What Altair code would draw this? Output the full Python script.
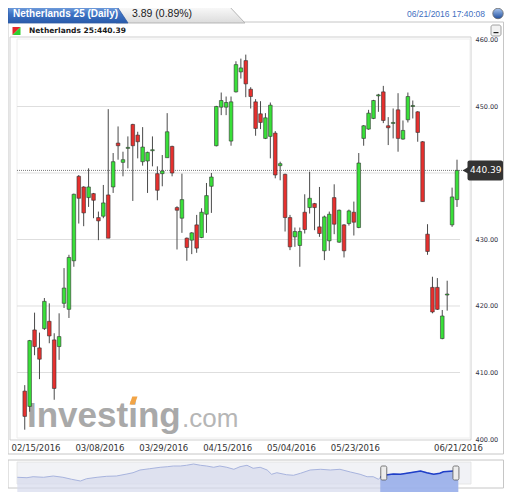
import altair as alt
import pandas as pd

# ---------------- data ----------------
# daily candles, index 0 = first candle shown ... 88 = 06/21/2016
opens = [407.2, 404.9, 416.4, 413.7, 416.6, 417.7, 414.9, 413.9, 420.4, 419.5,
         426.8, 439.5, 437.9, 436.3, 436.9, 433.3, 433.5, 436.7, 437.9, 444.5,
         441.6, 443.7, 447.3, 445.7, 441.7, 441.8, 443.35, 439.9, 439.9, 442.3,
         444.0, 434.8, 433.2, 430.2, 429.9, 432.2, 430.3, 433.8, 438.0, 444.1,
         449.9, 449.9, 444.8, 452.2, 455.2, 456.9, 452.6, 450.7, 448.9, 445.2,
         445.5, 446.0, 441.1, 439.8, 433.3, 430.4, 429.1, 434.1, 434.8, 435.4,
         431.9, 428.3, 429.8, 436.3, 429.6, 432.2, 432.4, 434.1, 431.8, 445.2,
         446.6, 448.2, 451.6, 452.2, 447.1, 447.45, 449.5, 445.1, 448.0, 450.0,
         449.2, 444.7, 430.8, 422.8, 422.8, 415.1, 421.65, 432.2, 436.0]
highs = [408.1, 414.9, 419.0, 416.0, 421.2, 420.4, 415.9, 418.9, 425.7, 427.7,
         436.9, 439.7, 438.0, 440.7, 437.0, 434.2, 438.2, 449.6, 443.0, 447.0,
         443.2, 445.5, 447.4, 446.2, 446.9, 443.2, 445.5, 441.0, 442.7, 449.0,
         444.1, 435.0, 439.9, 430.3, 431.1, 433.7, 434.7, 438.5, 440.0, 450.1,
         452.1, 451.5, 451.5, 456.8, 457.2, 457.8, 452.9, 451.1, 450.8, 449.0,
         450.6, 446.3, 441.7, 439.9, 433.7, 431.8, 431.8, 436.8, 440.2, 435.5,
         437.9, 433.6, 434.2, 438.3, 434.5, 432.3, 434.5, 435.7, 443.0, 447.2,
         449.5, 451.0, 451.9, 453.1, 448.4, 449.7, 452.0, 447.9, 452.1, 450.9,
         449.3, 444.8, 432.3, 424.4, 424.2, 419.4, 423.8, 437.8, 442.0]
lows = [401.4, 404.1, 412.6, 409.0, 416.4, 414.4, 405.9, 411.9, 419.7, 418.2,
        425.9, 432.4, 432.0, 434.9, 433.2, 429.9, 433.2, 430.2, 437.0, 442.0,
        439.5, 440.7, 435.8, 442.2, 441.1, 437.0, 441.0, 435.9, 438.0, 442.3,
        439.5, 428.5, 431.0, 426.8, 427.8, 428.0, 430.2, 431.0, 434.0, 444.0,
        448.7, 448.7, 444.1, 452.1, 454.2, 451.4, 449.7, 445.6, 446.6, 445.1,
        442.2, 439.2, 438.9, 431.2, 428.4, 428.9, 425.9, 430.9, 433.9, 431.4,
        430.4, 426.9, 428.3, 430.8, 429.5, 427.3, 432.1, 430.6, 431.7, 444.1,
        446.5, 448.1, 449.2, 447.5, 444.2, 445.2, 443.2, 445.0, 447.6, 448.2,
        444.7, 435.7, 427.7, 418.9, 419.4, 415.0, 419.3, 431.9, 434.9]
closes = [403.4, 414.8, 413.9, 412.0, 420.7, 415.5, 407.6, 415.4, 422.7, 427.3,
          436.8, 436.2, 434.0, 437.9, 435.9, 432.8, 435.5, 430.2, 441.7, 444.1,
          442.0, 443.85, 444.1, 444.7, 443.9, 443.1, 443.5, 437.4, 440.3, 446.2,
          440.0, 434.4, 436.0, 428.8, 431.0, 428.7, 434.1, 436.6, 439.4, 450.0,
          450.9, 450.6, 450.7, 456.3, 455.8, 453.4, 451.5, 446.7, 447.6, 448.3,
          450.2, 439.7, 441.4, 433.3, 428.9, 431.2, 431.2, 431.5, 436.2, 434.8,
          430.9, 433.4, 433.8, 432.3, 434.4, 428.3, 434.3, 432.6, 441.5, 447.1,
          449.0, 450.9, 451.75, 447.9, 446.8, 447.6, 445.2, 446.4, 451.5, 450.15,
          446.1, 435.7, 428.2, 419.1, 419.5, 418.5, 421.8, 436.4, 440.39]

tick_index = [-1, 15, 28, 41, 54, 67, 88]
tick_labels = ["02/15/2016", "03/08/2016", "03/29/2016", "04/15/2016",
               "05/04/2016", "05/23/2016", "06/21/2016"]
y_ticks = [400, 410, 420, 430, 450, 460]
grid_vals = [410, 420, 430, 440, 450]

# navigator (longer history), day offsets relative to first candle
nav_day = [-414, -403, -396, -384, -373, -362, -352, -342, -335, -323,
           -312, -301, -289, -282, -274, -263, -251, -243, -236, -228,
           -221, -213, -205, -198, -190, -183, -175, -167, -160, -152,
           -145, -137, -129, -124, -118, -107, -99, -91, -80, -68,
           -57, -46, -34, -23, -15, -8, -2, 0, 6, 15,
           23, 34, 46, 53, 61, 68, 72, 84, 89]
nav_level = [414, 411, 418, 414, 423, 414, 400, 388, 404, 414,
             421, 423, 437, 446, 465, 474, 484, 488, 493, 493,
             498, 507, 498, 493, 484, 493, 484, 470, 488, 498,
             477, 484, 465, 435, 446, 432, 428, 442, 465, 470,
             465, 470, 451, 435, 418, 418, 400, 414, 430, 437,
             435, 446, 458, 446, 435, 442, 453, 458, 460]
sel_start, sel_end = 0, 88

title_text = "Netherlands 25 (Daily)"
change_text = "3.89 (0.89%)"
timestamp_text = "06/21/2016 17:40:08"
instrument = "Netherlands 25"

# ---------------- tables ----------------
df = pd.DataFrame({"i": list(range(len(opens))), "open": opens, "high": highs,
                   "low": lows, "close": closes})
df["dir"] = ["up" if c >= o else "down" for o, c in zip(opens, closes)]
last = df.tail(1)
nav = pd.DataFrame({"d": nav_day, "v": nav_level})
one = pd.DataFrame({"k": [0]})

W, H = 461, 403
X0, X1 = -3, 90.85
xs = alt.Scale(domain=[X0, X1], nice=False, zero=False, padding=0)
ys = alt.Scale(domain=[399.85, 460.45], nice=False, zero=False)
nxs = alt.Scale(domain=[-414, 89], range=[7.3, 448.3], nice=False, zero=False)
nys = alt.Scale(domain=[367, 521], range=[447, 425], nice=False, zero=False)

axis_vals = [X0] + tick_index[1:]
labels_js = "[" + ",".join("'%s'" % t for t in tick_labels) + "]"
vals_js = "[" + ",".join(str(v) for v in axis_vals) + "]"
label_expr = "%s[indexof(%s, datum.value)]" % (labels_js, vals_js)


def rect(x, x2, y, y2, **kw):
    return alt.Chart(one).mark_rect(**kw).encode(
        x=alt.value(x), x2=alt.value(x2), y=alt.value(y), y2=alt.value(y2))


def text(t, x, y, **kw):
    return alt.Chart(pd.DataFrame({"t": [t]})).mark_text(**kw).encode(
        x=alt.value(x), y=alt.value(y), text="t:N")


def symbol(path, x, y, size, **kw):
    return alt.Chart(one).mark_point(shape=path, size=size, filled=True,
                                     opacity=1, **kw).encode(
        x=alt.value(x), y=alt.value(y))


blue_grad = alt.LinearGradient(gradient="linear", x1=0, x2=0, y1=0, y2=1, stops=[
    alt.GradientStop(color="#86aee4", offset=0),
    alt.GradientStop(color="#3d72c4", offset=0.5),
    alt.GradientStop(color="#2a5bab", offset=1)])
gray_grad = alt.LinearGradient(gradient="linear", x1=0, x2=0, y1=0, y2=1, stops=[
    alt.GradientStop(color="#fdfdfd", offset=0),
    alt.GradientStop(color="#dcdcdc", offset=1)])
ball_grad = alt.LinearGradient(gradient="linear", x1=0, x2=0, y1=0, y2=1, stops=[
    alt.GradientStop(color="#a9c6f0", offset=0),
    alt.GradientStop(color="#1f4e9e", offset=1)])

# ---------------- chrome ----------------
panel = rect(-2, 493.5, -15, 417, fill="white", stroke="#c6c6c6", strokeWidth=1)
gray_tab = symbol("M -0.992 -0.138 L 0.731 -0.138 L 0.992 0.138 L -0.992 0.138 Z",
                  170.5, -23, 16900, fill=gray_grad, stroke="#b5b5b5", strokeWidth=1)
blue_tab = symbol("M -1 -0.15 L 0.8 -0.15 L 1 0.15 L -1 0.15 Z",
                  58, -23, 14400, fill=blue_grad, stroke="#2d5aa3", strokeWidth=0.8)
t_title = text(title_text, 3, -23, font="Liberation Sans", fontSize=10,
               fontWeight="bold", color="white", align="left", baseline="middle")
t_change = text(change_text, 122, -23, font="Liberation Sans", fontSize=10.5,
                color="#1a1a1a", align="left", baseline="middle")
t_time = text(timestamp_text, 475, -23, font="Liberation Sans", fontSize=8.5,
              color="#3f6fbf", align="right", baseline="middle")
ball = symbol("circle", 488, -23.5, 110, fill=ball_grad, stroke="#6b6b6b",
              strokeWidth=0.8)
icon_r = symbol("M -1 -1 L 1 -1 L -1 1 Z", 6.5, -6, 64, fill="#e5262a")
icon_g = symbol("M 1 -1 L 1 1 L -1 1 Z", 6.5, -6, 64, fill="#2fcf2f")
legend_txt = text("%s:%.2f" % (instrument, closes[-1]), 19, -6, font="DejaVu Sans",
                  fontSize=7.5, fontWeight="bold", color="#1a1a1a",
                  align="left", baseline="middle")
min_btn = rect(481, 491, -12, -1, fill="#f2f2f2", stroke="#8a8a8a",
               strokeWidth=0.8, cornerRadius=2)
min_dash = rect(483.5, 488.5, -5, -3.8, fill="#222222")

plot_box = rect(0, W, 0, H, fill="white", stroke="#cfcfcf", strokeWidth=1)
inner_box = rect(7, 460, 2, 401, fillOpacity=0, stroke="#eeeeee", strokeWidth=1)

wm1 = text("Investing", 17, 390, font="Liberation Sans", fontSize=35,
           fontWeight="bold", color="#a9a9a9", align="left", baseline="alphabetic")
wm2 = text(".com", 172, 390, font="Liberation Sans", fontSize=26,
           color="#b6b6b6", align="left", baseline="alphabetic")
wm_dot = symbol("M -0.3 -1 L 1 -1 L 0.3 1 L -1 1 Z", 123.5, 363.5, 64,
                fill="#f2a446")

# ---------------- candles ----------------
base = alt.Chart(df)
grid = alt.Chart(pd.DataFrame({"g": grid_vals})).mark_rule(
    color="#dedede", strokeWidth=1).encode(
    y=alt.Y("g:Q", scale=ys, axis=None), x=alt.value(7), x2=alt.value(450))
last_line = alt.Chart(last).mark_rule(color="#7a7a7a", strokeWidth=1,
                                      strokeDash=[1, 1]).encode(
    y=alt.Y("close:Q", scale=ys, axis=None), x=alt.value(7), x2=alt.value(W))
wicks = base.mark_rule(color="#4a4a4a", strokeWidth=1).encode(
    x=alt.X("i:Q", scale=xs, axis=None),
    y=alt.Y("low:Q", scale=ys, axis=None), y2="high:Q")
bodies = base.mark_bar(size=3.6, stroke="#333333", strokeWidth=0.6).encode(
    x=alt.X("i:Q", scale=xs, title=None, axis=alt.Axis(
        values=axis_vals, labelExpr=label_expr, domain=False, ticks=False,
        grid=False, labelFont="DejaVu Sans", labelFontSize=8.5,
        labelColor="#333333", labelPadding=3, labelOffset=1, labelFlush=5,
        labelOverlap=False, zindex=1)),
    y=alt.Y("open:Q", scale=ys, title=None, axis=alt.Axis(
        orient="right", values=y_ticks, format=".2f", domain=False,
        ticks=False, grid=False, labelFont="DejaVu Sans", labelFontSize=6.5,
        labelColor="#333344", labelPadding=4, labelOverlap=False, zindex=1)),
    y2="close:Q",
    color=alt.Color("dir:N", legend=None,
                    scale=alt.Scale(domain=["up", "down"],
                                    range=["#39e039", "#e6302e"])))

lab_box = alt.Chart(last).mark_rect(color="#333333", cornerRadius=2,
                                    yOffset=-10, y2Offset=10).encode(
    x=alt.value(457.5), x2=alt.value(493),
    y=alt.Y("close:Q", scale=ys, axis=None), y2="close:Q")
lab_arrow = alt.Chart(last).mark_point(shape="triangle-left", filled=True,
                                       size=45, color="#333333", opacity=1).encode(
    x=alt.value(455.5), y=alt.Y("close:Q", scale=ys, axis=None))
lab_text = alt.Chart(last).mark_text(color="white", font="DejaVu Sans",
                                     fontSize=9, align="center",
                                     baseline="middle").encode(
    x=alt.value(475.7), y=alt.Y("close:Q", scale=ys, axis=None),
    text=alt.Text("close:Q", format=".2f"))

# ---------------- navigator ----------------
nav_frame = rect(-2, 493.5, 423, 451, fill="white", stroke="#c6c6c6", strokeWidth=1)
nav_bg = rect(7, 461, 425, 447, fill="#f1f2f6", stroke="#e2e2e2", strokeWidth=0.8)
nav_all = alt.Chart(nav).mark_area(
    color="#d5daec", line=alt.OverlayMarkDef(color="#a8b4de", strokeWidth=1)).encode(
    x=alt.X("d:Q", scale=nxs, axis=None), y=alt.Y("v:Q", scale=nys, axis=None))
nav_sel = alt.Chart(nav).transform_filter(
    (alt.datum.d >= sel_start) & (alt.datum.d <= sel_end + 1)).mark_area(
    color="#88a2ea", line=alt.OverlayMarkDef(color="#1f3fc8", strokeWidth=1.5)).encode(
    x=alt.X("d:Q", scale=nxs, axis=None), y=alt.Y("v:Q", scale=nys, axis=None))
h1 = alt.Chart(pd.DataFrame({"d": [sel_start]})).mark_rect(
    fill="#ececec", stroke="#5a5a5a", strokeWidth=0.8, cornerRadius=1.5,
    xOffset=0.5, x2Offset=6.5).encode(
    x=alt.X("d:Q", scale=nxs, axis=None), x2="d:Q",
    y=alt.value(429), y2=alt.value(443))
h2 = alt.Chart(pd.DataFrame({"d": [sel_end]})).mark_rect(
    fill="#ececec", stroke="#5a5a5a", strokeWidth=0.8, cornerRadius=1.5,
    xOffset=-4.5, x2Offset=1.5).encode(
    x=alt.X("d:Q", scale=nxs, axis=None), x2="d:Q",
    y=alt.value(429), y2=alt.value(443))

chart = alt.layer(
    panel, gray_tab, blue_tab, t_title, t_change, t_time, ball,
    icon_r, icon_g, legend_txt, min_btn, min_dash,
    plot_box, inner_box, wm1, wm2, wm_dot,
    grid, last_line, wicks, bodies, lab_box, lab_arrow, lab_text,
    nav_frame, nav_bg, nav_all, nav_sel, h1, h2,
).resolve_scale(x="independent", y="independent", color="independent").properties(
    width=W, height=H,
    padding={"left": 2, "top": 29, "right": 33, "bottom": 52},
    autosize=alt.AutoSizeParams(type="none"),
    background="white",
).configure_view(strokeOpacity=0)

chart.save("out.html", embed_options={"renderer": "svg", "actions": False})
